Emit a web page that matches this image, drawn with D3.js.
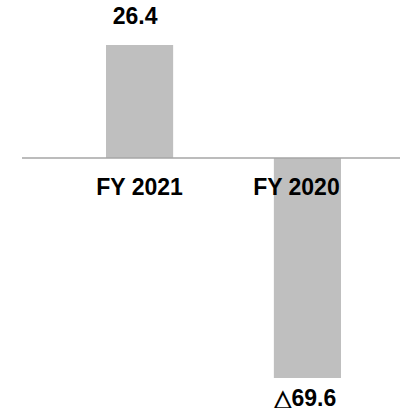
<!DOCTYPE html>
<html>
<head>
<meta charset="utf-8">
<script src="https://cdn.jsdelivr.net/npm/d3@7"></script>
<style>
  body { margin: 0; background: #fff; }
  text { font-family: "Liberation Sans", Arial, sans-serif; font-weight: bold; fill: #000; }
</style>
</head>
<body>
<svg width="400" height="408"></svg>
<script>
var categories = ["FY 2021", "FY 2020"];
var values = [26.4, -69.6];
var valueLabels = ["26.4", "\u25B369.6"];

var svg = d3.select("svg"),
    width = +svg.attr("width"),
    height = +svg.attr("height");

var x = d3.scaleBand()
    .domain(categories)
    .range([106, 341])
    .paddingInner(0.6)
    .paddingOuter(0);

// the source chart does not share one scale above and below zero
var y = d3.scaleLinear()
    .domain([d3.min(values), 0, d3.max(values)])
    .range([378, 158, 45]);

var data = categories.map(function(c, i) {
    return { cat: c, value: values[i], label: valueLabels[i] };
});

svg.selectAll(".bar")
    .data(data)
    .enter().append("rect")
      .attr("class", "bar")
      .attr("x", function(d) { return x(d.cat); })
      .attr("width", x.bandwidth())
      .attr("y", function(d) { return Math.min(y(d.value), y(0)); })
      .attr("height", function(d) { return Math.abs(y(d.value) - y(0)); })
      .attr("fill", "#bfbfbf");

svg.append("line")
    .attr("x1", 22)
    .attr("x2", width)
    .attr("y1", y(0))
    .attr("y2", y(0))
    .attr("stroke", "#a6a6a6")
    .attr("stroke-width", 1.5);

var catOffset = [0, -11];
svg.selectAll(".cat")
    .data(data)
    .enter().append("text")
      .attr("class", "cat")
      .attr("x", function(d, i) { return x(d.cat) + x.bandwidth() / 2 + catOffset[i]; })
      .attr("y", 195)
      .attr("text-anchor", "middle")
      .style("font-size", "23px")
      .text(function(d) { return d.cat; });

var valOffset = [-4.5, -2.5];
svg.selectAll(".val")
    .data(data)
    .enter().append("text")
      .attr("class", "val")
      .attr("x", function(d, i) { return x(d.cat) + x.bandwidth() / 2 + valOffset[i]; })
      .attr("y", function(d) { return d.value >= 0 ? y(d.value) - 21 : y(d.value) + 28; })
      .attr("text-anchor", "middle")
      .style("font-size", "23px")
      .text(function(d) { return d.label; });
</script>
</body>
</html>
